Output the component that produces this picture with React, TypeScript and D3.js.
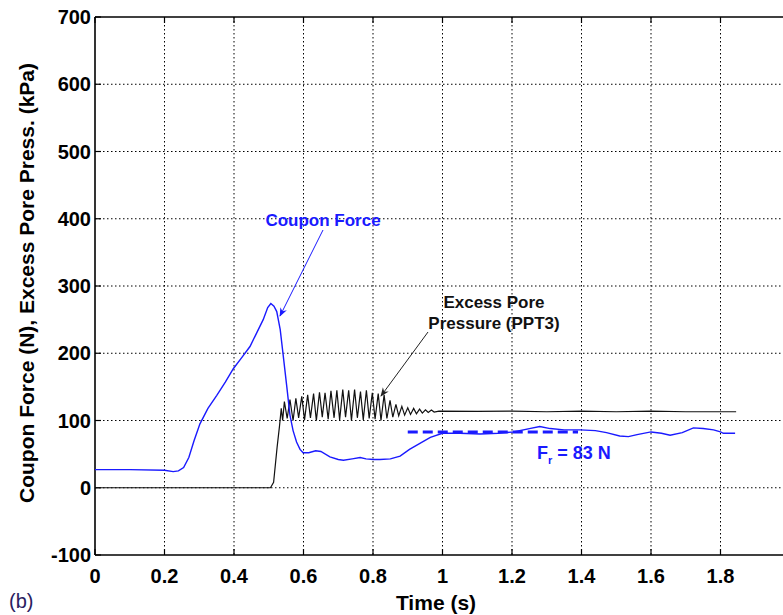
import React from "react";
import * as d3 from "d3";

// Coupon force (N) — blue
const forceTime = [0, 0.1, 0.2, 0.225, 0.24, 0.255, 0.27, 0.285, 0.302, 0.325, 0.35, 0.375, 0.398, 0.42, 0.446, 0.465, 0.484, 0.497, 0.506, 0.515, 0.523, 0.533, 0.542, 0.552, 0.561, 0.57, 0.58, 0.59, 0.599, 0.615, 0.635, 0.65, 0.676, 0.7, 0.715, 0.74, 0.763, 0.78, 0.801, 0.82, 0.85, 0.878, 0.905, 0.935, 0.965, 1.0, 1.05, 1.108, 1.16, 1.204, 1.25, 1.28, 1.31, 1.35, 1.396, 1.44, 1.472, 1.51, 1.535, 1.56, 1.6, 1.63, 1.655, 1.69, 1.722, 1.75, 1.78, 1.8, 1.808, 1.842];
const forceValue = [27, 27, 26, 24, 25, 30, 45, 70, 95, 118, 137, 157, 177, 192, 210, 230, 250, 268, 274, 270, 262, 235, 195, 150, 108, 85, 68, 57, 52, 52, 55, 54, 46, 42, 41, 43, 45, 43, 42, 42, 43, 47, 57, 66, 75, 81, 81, 80, 81, 83, 88, 91, 88, 86, 86, 85, 82, 77, 76, 79, 83, 81, 78, 82, 89, 88, 86, 83, 81, 81];

// Excess pore pressure PPT3 (kPa) — black
const pptTime = [0, 0.505, 0.514, 0.524, 0.531, 0.536, 0.54, 0.545, 0.553, 0.561, 0.57, 0.578, 0.586, 0.595, 0.603, 0.612, 0.62, 0.629, 0.637, 0.646, 0.654, 0.662, 0.671, 0.679, 0.688, 0.696, 0.704, 0.713, 0.721, 0.73, 0.738, 0.747, 0.755, 0.764, 0.772, 0.781, 0.789, 0.798, 0.806, 0.815, 0.823, 0.832, 0.84, 0.849, 0.857, 0.866, 0.874, 0.883, 0.891, 0.9, 0.908, 0.917, 0.925, 0.934, 0.942, 0.951, 0.959, 0.968, 0.976, 0.99, 1.1, 1.2, 1.3, 1.4, 1.5, 1.6, 1.7, 1.845];
const pptValue = [0, 0, 8, 60, 92, 118, 100, 128, 103, 131, 100, 133, 104, 136, 101, 138, 104, 140, 100, 142, 105, 141, 102, 144, 104, 145, 101, 146, 105, 145, 100, 146, 104, 143, 101, 145, 103, 141, 102, 140, 100, 138, 103, 130, 105, 124, 107, 121, 108, 119, 109, 118, 110, 117, 111, 116, 112, 115.5, 112.5, 114, 113.5, 114, 113, 114, 113, 114, 113, 113];

// Residual force reference line
const residualTime = [0.9, 1.39];
const residualValue = [83, 83];

const xTicks = [0, 0.2, 0.4, 0.6, 0.8, 1, 1.2, 1.4, 1.6, 1.8];
const xTickLabels = ["0", "0.2", "0.4", "0.6", "0.8", "1", "1.2", "1.4", "1.6", "1.8"];
const yTicks = [-100, 0, 100, 200, 300, 400, 500, 600, 700];
const yTickLabels = ["-100", "0", "100", "200", "300", "400", "500", "600", "700"];

const W = 783;
const H = 615;
const left = 95;
const right = 790;
const top = 17;
const bottom = 555;

export default function App() {
  const x = d3.scaleLinear().domain([0, 2]).range([left, right]);
  const y = d3.scaleLinear().domain([-100, 700]).range([bottom, top]);

  const line = d3
    .line<[number, number]>()
    .x((d) => x(d[0]))
    .y((d) => y(d[1]));

  const forceData = forceTime.map((t, i) => [t, forceValue[i]] as [number, number]);
  const pptData = pptTime.map((t, i) => [t, pptValue[i]] as [number, number]);
  const resData = residualTime.map((t, i) => [t, residualValue[i]] as [number, number]);

  const font = "'Liberation Sans', Arial, Helvetica, sans-serif";
  const blue = "#1a1aff";

  return (
    <svg
      width={W}
      height={H}
      style={{ position: "absolute", left: 0, top: 0, background: "#fff" }}
      fontFamily={font}
    >
      <defs>
        <marker id="arrB" viewBox="0 0 10 10" refX="9" refY="5" markerWidth="9" markerHeight="9" orient="auto">
          <path d="M0,1 L10,5 L0,9 L3,5 Z" fill={blue} />
        </marker>
        <marker id="arrK" viewBox="0 0 10 10" refX="9" refY="5" markerWidth="9" markerHeight="9" orient="auto">
          <path d="M0,1 L10,5 L0,9 L3,5 Z" fill="#222" />
        </marker>
      </defs>
      {/* grid */}
      {xTicks.slice(1).map((t) => (
        <line key={"gx" + t} x1={x(t)} x2={x(t)} y1={top} y2={bottom} stroke="#000" strokeWidth={1} strokeDasharray="1.5,2.5" />
      ))}
      {yTicks.slice(1, -1).map((t) => (
        <line key={"gy" + t} x1={left} x2={right} y1={y(t)} y2={y(t)} stroke="#000" strokeWidth={1} strokeDasharray="1.5,2.5" />
      ))}
      {/* ticks inward */}
      {xTicks.map((t) => (
        <g key={"tx" + t}>
          <line x1={x(t)} x2={x(t)} y1={bottom} y2={bottom - 6} stroke="#000" strokeWidth={1.2} />
          <line x1={x(t)} x2={x(t)} y1={top} y2={top + 6} stroke="#000" strokeWidth={1.2} />
        </g>
      ))}
      {yTicks.map((t) => (
        <line key={"ty" + t} x1={left} x2={left + 6} y1={y(t)} y2={y(t)} stroke="#000" strokeWidth={1.2} />
      ))}
      {/* frame */}
      <line x1={left} x2={right} y1={top} y2={top} stroke="#000" strokeWidth={1.6} />
      <line x1={left} x2={right} y1={bottom} y2={bottom} stroke="#000" strokeWidth={1.6} />
      <line x1={left} x2={left} y1={top} y2={bottom} stroke="#000" strokeWidth={1.6} />

      {/* data */}
      <path d={line(pptData) || ""} fill="none" stroke="#111" strokeWidth={1.2} />
      <path d={line(forceData) || ""} fill="none" stroke={blue} strokeWidth={1.4} />
      <path d={line(resData) || ""} fill="none" stroke={blue} strokeWidth={3} strokeDasharray="10,5" />

      {/* tick labels */}
      {xTicks.map((t, i) => (
        <text key={"lx" + t} x={x(t)} y={583} textAnchor="middle" fontSize={20} fontWeight="bold">
          {xTickLabels[i]}
        </text>
      ))}
      {yTicks.map((t, i) => (
        <text key={"ly" + t} x={91} y={y(t) + 7} textAnchor="end" fontSize={20} fontWeight="bold">
          {yTickLabels[i]}
        </text>
      ))}

      {/* axis titles */}
      <text x={436} y={610} textAnchor="middle" fontSize={21} fontWeight="bold">
        Time (s)
      </text>
      <text transform="translate(34,283) rotate(-90)" textAnchor="middle" fontSize={21} fontWeight="bold">
        Coupon Force (N), Excess Pore Press. (kPa)
      </text>
      <text x={9} y={608} fontSize={20} fill="#2a2060">
        (b)
      </text>

      {/* annotations */}
      <text x={323} y={226} textAnchor="middle" fontSize={17} fontWeight="bold" fill={blue}>
        Coupon Force
      </text>
      <line x1={323} y1={230} x2={280} y2={316} stroke={blue} strokeWidth={1} markerEnd="url(#arrB)" />

      <text x={494} y={308} textAnchor="middle" fontSize={17} fontWeight="bold" fill="#111">
        Excess Pore
      </text>
      <text x={494} y={329} textAnchor="middle" fontSize={17} fontWeight="bold" fill="#111">
        Pressure (PPT3)
      </text>
      <line x1={428} y1={332} x2={381} y2={396} stroke="#222" strokeWidth={1} markerEnd="url(#arrK)" />

      <text x={537} y={459} fontSize={18} fontWeight="bold" fill={blue}>
        F
        <tspan fontSize={11} dy={5}>r</tspan>
        <tspan dy={-5}> = 83 N</tspan>
      </text>
    </svg>
  );
}
